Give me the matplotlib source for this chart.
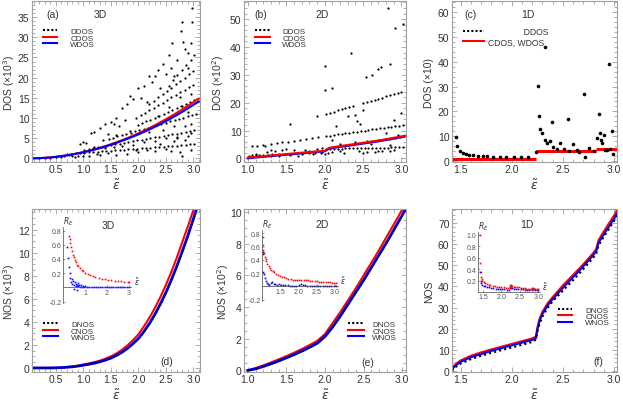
import matplotlib
matplotlib.use('Agg')
import matplotlib.pyplot as plt
from matplotlib.lines import Line2D
from matplotlib.ticker import MultipleLocator, FormatStrFormatter

plt.rcParams['font.family'] = ['Liberation Sans', 'DejaVu Sans']
plt.rcParams['mathtext.fontset'] = 'dejavusans'

# ---------------- DATA ----------------
# (a) 3D DOS
dos3d_x = [0.1,0.2,0.3,0.4,0.5,0.6,0.7,0.8,0.9,1.0,1.1,1.2,1.3,1.4,1.5,1.6,1.7,1.8,1.9,2.0,
           2.1,2.2,2.3,2.4,2.5,2.6,2.7,2.8,2.9,3.0,3.1]
cdos3d_y = [0.02,0.06,0.14,0.25,0.39,0.56,0.76,0.99,1.26,1.55,1.88,2.23,2.62,3.04,3.49,3.97,4.48,5.02,5.60,6.20,
            6.84,7.50,8.20,8.93,9.69,10.48,11.30,12.15,13.04,13.90,14.80]
wdos3d_y = [0.02,0.05,0.12,0.22,0.36,0.53,0.72,0.95,1.21,1.49,1.81,2.15,2.53,2.93,3.37,3.83,4.32,4.84,5.38,5.94,
            6.54,7.16,7.82,8.50,9.22,9.97,10.75,11.55,12.40,13.25,14.10]
ray3d_1x = [0.70,0.78,0.86,0.94,1.02,1.10,1.18,1.26,1.34,1.42,1.50,1.58,1.66,1.74,1.82,1.90,1.98,2.06,2.14,2.22,2.30,2.38,2.46,2.54,2.62,2.70,2.78,2.86,2.94,3.02]
ray3d_1y = [1.05,1.13,1.22,1.30,1.39,1.47,1.56,1.64,1.73,1.81,1.90,1.99,2.07,2.16,2.24,2.33,2.41,2.50,2.58,2.67,2.75,2.84,2.92,3.01,3.09,3.18,3.27,3.35,3.44,3.52]
ray3d_2x = [1.02,1.10,1.18,1.26,1.34,1.42,1.50,1.58,1.66,1.74,1.82,1.90,1.98,2.06,2.14,2.22,2.30,2.38,2.46,2.54,2.62,2.70,2.78,2.86,2.94,3.02]
ray3d_2y = [2.15,2.35,2.54,2.73,2.92,3.11,3.30,3.49,3.68,3.87,4.06,4.25,4.45,4.64,4.83,5.02,5.21,5.40,5.59,5.78,5.97,6.16,6.35,6.55,6.74,6.93]
ray3d_3x = [1.46,1.54,1.62,1.70,1.78,1.86,1.94,2.02,2.10,2.18,2.26,2.34,2.42,2.50,2.58,2.66,2.74,2.82,2.90,2.98,3.04]
ray3d_3y = [4.85,5.15,5.46,5.77,6.08,6.39,6.70,7.01,7.32,7.63,7.94,8.25,8.56,8.87,9.18,9.49,9.79,10.10,10.41,10.72,10.96]
ray3d_4x = [2.06,2.14,2.22,2.30,2.38,2.46,2.54,2.62,2.70,2.78,2.86,2.94,3.02]
ray3d_4y = [8.68,9.15,9.63,10.11,10.58,11.06,11.54,12.01,12.49,12.97,13.44,13.92,14.40]
ray3d_5x = [1.96,2.04,2.12,2.20,2.28,2.36,2.44,2.52,2.60,2.68,2.76,2.84,2.92,3.00]
ray3d_5y = [10.11,10.73,11.36,11.98,12.60,13.22,13.84,14.47,15.09,15.71,16.33,16.96,17.58,18.20]
ray3d_6x = [2.20,2.28,2.36,2.44,2.52,2.60,2.68,2.76,2.84,2.92,3.00]
ray3d_6y = [13.44,14.26,15.09,15.91,16.74,17.56,18.38,19.21,20.03,20.86,21.68]
ray3d_7x = [2.55,2.63,2.71,2.79,2.87,2.95,3.02]
ray3d_7y = [18.0,19.3,20.6,21.9,23.2,24.5,25.6]
scatter3d = [(2.98,37.2),(2.98,33.9),(2.80,33.9),(2.77,31.5),(2.62,28.5),(2.82,28.9),(2.96,28.5),(2.55,25.5),
             (2.85,27.0),(2.90,26.0),(2.70,24.5),(2.45,23.5),(2.35,22.0),(2.20,20.5),(2.30,20.3),(2.50,21.0),
             (2.60,22.5),(2.10,18.0),(2.25,19.0),(2.00,17.5),(1.85,15.5),(1.80,13.5),(1.90,14.8),(2.05,15.0),
             (1.70,12.5),(1.60,10.0),(1.50,9.0),(1.55,8.5),(1.40,8.4),(1.30,7.5),(1.20,6.5),(1.15,6.3),
             (1.00,4.0),(1.05,3.8),(0.95,3.5),(1.35,4.5),(1.45,6.0),(1.75,9.5),(1.65,8.0),(2.15,14.0),
             (2.40,17.5),(2.65,20.5),(2.90,22.5),(2.80,13.0),(2.90,11.5),(2.95,8.5),(2.85,8.0),(2.70,5.0),
             (2.90,5.5),(2.60,1.8),(2.75,1.5),(2.80,0.5),(2.95,2.0),(2.50,2.3),(2.30,1.8),(2.00,1.5),
             (1.80,1.2),(1.60,0.9),(1.30,0.9),(1.10,0.7),(0.90,0.6),(0.80,0.5),(0.60,0.4),(0.50,0.3),
             (0.40,0.15),(0.30,0.1),(0.20,0.05),(1.20,2.9),(1.40,2.6),(1.70,3.0),(1.90,3.4),(2.10,4.0),
             (2.30,4.4),(2.50,5.0),(2.70,5.2),(2.95,6.3),(2.20,6.5),(1.60,5.8),(2.00,8.3),(2.35,10.5),
             (2.55,12.8),(2.75,15.2),(2.95,16.0),(1.85,6.8),(2.45,7.0),(2.65,8.0),(1.25,1.2),(1.45,1.3),
             (1.55,2.8),(1.95,2.0),(2.15,2.0),(2.40,3.5),(2.65,4.2),(2.85,4.6),(0.75,0.9),(0.85,0.3),
             (1.00,0.7),(0.65,0.6),(0.55,0.5)]

# (b) 2D DOS
dos2d_x = [1.0,1.1,1.2,1.3,1.4,1.5,1.6,1.7,1.8,1.9,2.0,2.03,2.06,2.1,2.2,2.3,2.4,2.5,2.6,2.7,2.8,2.9,3.0,3.06]
cdos2d_y = [0.3,0.55,0.8,1.05,1.3,1.55,1.8,2.05,2.3,2.5,2.7,3.2,3.8,4.0,4.4,4.8,5.2,5.6,6.0,6.4,6.9,7.4,7.9,8.2]
wdos2d_y = [0.0,0.3,0.55,0.8,1.05,1.3,1.55,1.8,2.05,2.3,2.5,3.0,3.5,3.7,4.1,4.5,4.9,5.3,5.7,6.1,6.6,7.1,7.6,7.9]
ray2d_ux = [2.02,2.07,2.12,2.17,2.22,2.27,2.32,2.37,2.50,2.55,2.60,2.65,2.70,2.75,2.80,2.85,2.90,2.95,3.00]
ray2d_uy = [16.0,16.4,16.8,17.2,17.6,18.0,18.4,18.8,19.84,20.24,20.64,21.04,21.44,21.84,22.24,22.64,23.04,23.44,23.84]
ray2d_m1x = [1.05,1.12,1.20,1.30,1.38,1.45,1.52,1.60,1.68,1.76,1.84,1.92]
ray2d_m1y = [4.30,4.56,4.86,5.23,5.52,5.78,6.04,6.34,6.63,6.93,7.22,7.52]
ray2d_m2x = [2.02,2.07,2.12,2.17,2.22,2.27,2.32,2.37,2.42,2.47,2.52,2.57,2.62,2.67,2.72,2.77,2.82,2.87,2.92,2.97,3.02]
ray2d_m2y = [8.0,8.2,8.4,8.6,8.8,9.0,9.2,9.4,9.6,9.8,10.0,10.2,10.4,10.6,10.8,11.0,11.2,11.4,11.6,11.8,12.0]
ray2d_lx = [2.02,2.07,2.12,2.17,2.22,2.27,2.32,2.37,2.42,2.47,2.52,2.57,2.62,2.67,2.72,2.77,2.82,2.87,2.92,2.97,3.02]
ray2d_ly = [3.40,3.43,3.46,3.49,3.52,3.55,3.58,3.61,3.64,3.67,3.70,3.73,3.76,3.79,3.82,3.85,3.88,3.91,3.94,3.97,4.00]
ray2d_bx = [1.02,1.06,1.10,1.14,1.20,1.26,1.32,1.40,1.48,1.56,1.64,1.72,1.80,1.88,1.96]
ray2d_by = [1.00,1.05,1.10,1.15,1.25,1.30,1.40,1.50,1.60,1.70,1.80,1.90,2.00,2.10,2.20]
scatter2d = [(2.82,54.0),(2.92,46.9),(3.02,48.1),(2.34,37.7),(2.00,33.2),(2.01,24.4),(2.10,25.3),(2.54,29.2),
             (2.62,30.0),(2.70,32.1),(2.74,32.7),(2.85,34.0),(1.55,12.4),(1.90,15.2),(2.40,15.5),(2.42,13.4),
             (2.46,12.5),(2.15,11.5),(2.90,13.9),(3.00,16.4),(2.50,17.2),(2.30,15.1),(2.20,5.2),(2.40,6.0),
             (2.60,5.0),(2.85,4.8),(2.95,8.5),(2.80,9.0),(2.10,6.5),(2.30,4.8),(2.70,2.8),(2.90,3.0),
             (2.50,2.0),(2.25,2.0),(2.10,2.3),(2.20,2.5),(2.45,2.6),(2.55,2.4),(2.65,2.2),(2.75,2.5),
             (2.85,2.7),(2.55,6.2),(2.62,6.4),(2.70,6.7),(2.78,6.9),(2.85,7.1),(2.92,7.3),(2.98,7.5),
             (1.05,0.5),(1.10,1.6),(1.15,0.8),(1.25,2.2),(1.30,0.9),(1.35,2.6),(1.40,1.0),(1.45,2.9),
             (1.55,1.2),(1.60,2.9),(1.70,1.4),(1.75,3.0),(1.85,1.5),(1.90,3.2),(1.95,1.8),(1.22,4.4),
             (1.30,3.0),(1.50,3.3),(1.65,0.9),(1.80,2.8),(1.97,3.6),(2.00,1.5),(2.05,1.9)]

# (c) 1D DOS
cdos1d_level = [1.0, 4.0, 5.0]
cdos1d_start = [1.414, 2.236, 2.828]
cdos1d_end = [2.236, 2.828, 3.03]
scatter1d = [(1.45,9.6),(1.467,5.9),(1.49,4.1),(1.52,3.4),(1.55,2.9),(1.58,2.5),(1.62,2.3),(1.67,2.1),
             (1.72,2.0),(1.76,1.9),(1.82,1.8),(1.88,1.7),(1.94,1.7),(2.02,1.7),(2.09,1.6),(2.16,1.6),
             (2.24,3.6),(2.26,30.2),(2.27,18.3),(2.28,13.0),(2.30,11.3),(2.32,46.0),(2.32,8.4),(2.34,7.2),
             (2.37,7.9),(2.39,15.7),(2.40,5.6),(2.44,5.0),(2.47,7.1),(2.51,5.0),(2.55,16.9),(2.56,4.2),
             (2.60,6.9),(2.64,4.3),(2.66,3.7),(2.71,26.9),(2.72,1.8),(2.76,5.4),(2.80,4.1),(2.83,9.3),
             (2.85,19.0),(2.86,11.1),(2.87,8.3),(2.88,7.3),(2.90,10.3),(2.91,4.4),(2.93,4.6),(2.95,39.3),
             (2.96,4.8),(2.98,12.0),(2.99,3.0)]

# (d) 3D NOS
nos3d_x = [0.1,0.2,0.3,0.4,0.5,0.6,0.7,0.8,0.9,1.0,1.1,1.2,1.3,1.4,1.5,1.6,1.7,1.8,1.9,2.0,
           2.1,2.2,2.3,2.4,2.5,2.6,2.7,2.8,2.9,3.0,3.1]
cnos3d_y = [0.0,0.0,0.0,0.01,0.02,0.04,0.08,0.13,0.20,0.30,0.39,0.50,0.63,0.80,1.00,1.25,1.57,1.95,2.40,2.90,
            3.60,4.35,5.20,6.15,7.20,8.35,9.60,10.95,12.30,13.70,15.20]
wnos3d_y = [0.0,0.0,0.0,0.0,0.01,0.03,0.06,0.10,0.16,0.24,0.32,0.42,0.54,0.68,0.86,1.08,1.36,1.70,2.10,2.55,
            3.15,3.85,4.65,5.55,6.55,7.65,8.85,10.15,11.50,12.95,14.45]
dnos3d_y = [0.0,0.0,0.0,0.0,0.0,0.02,0.05,0.09,0.14,0.21,0.29,0.39,0.50,0.64,0.81,1.03,1.30,1.64,2.03,2.48,
            3.07,3.77,4.56,5.46,6.45,7.55,8.74,10.04,11.38,12.83,14.32]
rel3d_red = [(0.28,0.72),(0.30,0.68),(0.33,0.62),(0.36,0.57),(0.40,0.51),(0.44,0.46),(0.48,0.43),(0.53,0.39),
             (0.58,0.355),(0.64,0.32),(0.70,0.295),(0.77,0.27),(0.85,0.245),(0.93,0.225),(1.02,0.206),
             (1.12,0.189),(1.23,0.173),(1.35,0.158),(1.48,0.145),(1.62,0.133),(1.76,0.124),(1.90,0.115),
             (2.05,0.108),(2.20,0.101),(2.35,0.095),(2.50,0.09),(2.65,0.085),(2.80,0.081),(2.95,0.078),(3.0,0.077)]
rel3d_blue = [(0.20,0.57),(0.24,0.42),(0.27,0.29),(0.30,0.20),(0.33,0.13),(0.36,0.08),(0.40,0.12),(0.43,0.05),
              (0.46,0.09),(0.50,0.04),(0.52,-0.02),(0.55,0.07),(0.58,0.02),(0.60,0.05),(0.62,-0.03),(0.65,0.03),
              (0.68,0.06),(0.70,0.02),(0.73,0.04),(0.76,0.01),(0.80,0.03),(0.85,0.01),(0.90,0.02),(0.95,0.01),
              (1.0,0.015),(1.1,0.01),(1.2,0.012),(1.3,0.008),(1.4,0.01),(1.5,0.008),(1.6,0.01),(1.7,0.007),
              (1.8,0.008),(1.9,0.006),(2.0,0.007),(2.1,0.006),(2.2,0.006),(2.3,0.005),(2.4,0.005),(2.5,0.005),
              (2.6,0.004),(2.7,0.004),(2.8,0.004),(2.9,0.004),(3.0,0.004)]

# (e) 2D NOS
nos2d_x = [1.0,1.1,1.2,1.3,1.4,1.5,1.6,1.7,1.8,1.9,2.0,2.1,2.2,2.3,2.4,2.5,2.6,2.7,2.8,2.9,3.0,3.05]
cnos2d_y = [0.0,0.15,0.32,0.5,0.7,0.9,1.12,1.35,1.6,1.87,2.3,3.0,3.7,4.45,5.2,6.0,6.8,7.6,8.45,9.3,10.15,10.6]
wnos2d_y = [0.0,0.1,0.25,0.42,0.6,0.8,1.0,1.22,1.46,1.72,2.15,2.75,3.45,4.2,4.95,5.7,6.5,7.3,8.1,8.95,9.8,10.25]
dnos2d_y = [0.0,0.08,0.22,0.39,0.57,0.77,0.97,1.19,1.43,1.69,2.1,2.7,3.4,4.15,4.9,5.65,6.45,7.25,8.05,8.9,9.75,10.2]
rel2d_red = [(1.02,0.75),(1.03,0.62),(1.04,0.55),(1.06,0.5),(1.08,0.45),(1.10,0.41),(1.12,0.38),(1.15,0.34),
             (1.18,0.31),(1.21,0.28),(1.25,0.25),(1.29,0.23),(1.33,0.21),(1.38,0.19),(1.43,0.17),(1.48,0.16),
             (1.54,0.145),(1.60,0.135),(1.66,0.125),(1.72,0.115),(1.78,0.11),(1.84,0.1),(1.90,0.095),
             (1.96,0.09),(2.02,0.095),(2.08,0.1),(2.14,0.1),(2.20,0.095),(2.26,0.09),(2.32,0.085),(2.38,0.08),
             (2.44,0.078),(2.50,0.075),(2.56,0.072),(2.62,0.07),(2.68,0.067),(2.74,0.064),(2.80,0.062),
             (2.86,0.06),(2.92,0.057),(2.98,0.055),(3.02,0.053)]
rel2d_blue = [(1.02,0.52),(1.03,0.49),(1.04,0.22),(1.06,0.18),(1.08,0.12),(1.10,0.08),(1.13,0.05),(1.16,0.03),
              (1.20,0.02),(1.24,0.05),(1.28,0.06),(1.32,0.04),(1.36,0.03),(1.40,0.02),(1.46,0.03),(1.52,0.02),
              (1.58,0.015),(1.64,0.02),(1.70,0.015),(1.76,0.01),(1.82,0.012),(1.88,0.01),(1.94,0.01),
              (2.00,0.02),(2.06,0.03),(2.12,0.02),(2.18,0.015),(2.24,0.01),(2.30,0.012),(2.36,0.01),
              (2.42,0.01),(2.48,0.008),(2.54,0.01),(2.60,0.008),(2.66,0.008),(2.72,0.007),(2.78,0.007),
              (2.84,0.006),(2.90,0.006),(2.96,0.006),(3.02,0.005)]

# (f) 1D NOS
nos1d_x = [1.414,1.42,1.44,1.47,1.5,1.6,1.7,1.8,1.9,2.0,2.1,2.2,2.236,2.24,2.25,2.27,2.3,2.35,2.4,2.5,
           2.6,2.7,2.8,2.828,2.835,2.85,2.9,2.95,3.0,3.03]
cnos1d_y = [0,1.5,2.8,4.0,5.0,7.2,8.8,10.2,11.5,12.8,14.1,15.4,16.3,17.5,20.5,24.5,28.0,32.0,35.0,40.5,
            45.5,50.5,56.0,57.8,59.5,62.0,66.0,69.8,73.5,76.0]
wnos1d_y = [0,1.0,2.2,3.3,4.3,6.5,8.0,9.5,10.8,12.1,13.4,14.7,15.5,16.7,19.5,23.5,27.0,31.0,34.0,39.3,
            44.4,49.5,55.0,56.8,58.3,60.8,64.6,68.3,72.0,74.5]
dnos1d_y = [0,0.5,1.5,2.6,3.5,5.6,7.2,8.6,9.9,11.1,12.4,13.7,14.8,16.0,18.5,22.0,25.8,29.8,33.0,38.0,
            43.0,48.2,53.8,55.8,57.0,59.5,63.5,67.2,71.0,73.8]
rel1d_red = [(1.415,1.0),(1.42,0.5),(1.43,0.35),(1.44,0.26),(1.46,0.22),(1.48,0.2),(1.51,0.18),(1.55,0.16),
             (1.6,0.145),(1.65,0.13),(1.7,0.12),(1.76,0.11),(1.82,0.1),(1.88,0.095),(1.94,0.09),(2.0,0.085),
             (2.06,0.08),(2.12,0.075),(2.18,0.07),(2.23,0.07),(2.24,0.13),(2.25,0.12),(2.27,0.11),(2.3,0.1),
             (2.34,0.095),(2.38,0.09),(2.43,0.085),(2.48,0.08),(2.53,0.075),(2.58,0.07),(2.63,0.065),
             (2.68,0.06),(2.73,0.058),(2.78,0.055),(2.82,0.052),(2.83,0.07),(2.85,0.065),(2.88,0.06),
             (2.92,0.055),(2.96,0.05),(3.0,0.048)]
rel1d_blue = [(1.42,0.35),(1.43,0.2),(1.45,0.16),(1.48,0.13),(1.52,0.11),(1.56,0.1),(1.6,0.09),(1.66,0.08),
              (1.72,0.07),(1.78,0.065),(1.84,0.06),(1.9,0.055),(1.96,0.05),(2.02,0.048),(2.08,0.045),
              (2.14,0.042),(2.2,0.04),(2.24,0.08),(2.26,0.07),(2.3,0.065),(2.35,0.06),(2.4,0.055),(2.46,0.05),
              (2.52,0.048),(2.58,0.045),(2.64,0.042),(2.7,0.04),(2.76,0.038),(2.82,0.036),(2.84,0.05),
              (2.88,0.045),(2.92,0.042),(2.96,0.04),(3.0,0.038)]

# ---------------- STYLE ----------------
W, H = 623, 406
RED = '#ff0000'
BLUE = '#0000ff'
FRAME = '#a0a0a0'
TXT = '#333333'

fig = plt.figure(figsize=(W / 100, H / 100), dpi=100)


def box(l, t, r, b):
    return [l / W, 1 - b / H, (r - l) / W, (b - t) / H]


def style(ax, xlim, ylim, xmaj, xmin, ymaj, ymin, xfmt='%.1f'):
    ax.set_xlim(*xlim)
    ax.set_ylim(*ylim)
    for s in ax.spines.values():
        s.set_color(FRAME)
        s.set_linewidth(0.8)
    ax.xaxis.set_major_locator(MultipleLocator(xmaj))
    ax.xaxis.set_minor_locator(MultipleLocator(xmin))
    ax.yaxis.set_major_locator(MultipleLocator(ymaj))
    ax.yaxis.set_minor_locator(MultipleLocator(ymin))
    ax.xaxis.set_major_formatter(FormatStrFormatter(xfmt))
    ax.yaxis.set_major_formatter(FormatStrFormatter('%d'))
    ax.tick_params(which='both', direction='in', top=True, right=True, color=FRAME,
                   labelcolor=TXT, labelsize=7.5, width=0.6, pad=1.8)
    ax.tick_params(which='major', length=3.5)
    ax.tick_params(which='minor', length=2)
    ax.set_xlabel(r'$\tilde{\varepsilon}$', fontsize=9, color=TXT, labelpad=2)


def ylab(ax, text, xpos):
    ax.set_ylabel(text, fontsize=7.5, color=TXT)
    ax.yaxis.set_label_coords(xpos, 0.5)


def legend(ax, handles, labels, anchor, hl, pad, fs=5.8, sp=-0.15):
    ax.legend(handles, labels, loc='upper left', bbox_to_anchor=anchor, frameon=False,
              fontsize=fs, handlelength=hl, handletextpad=pad, labelspacing=sp,
              borderpad=0, borderaxespad=0, labelcolor=TXT)


def unzip(pairs):
    return [p[0] for p in pairs], [p[1] for p in pairs]


h_dot = Line2D([], [], color='black', ls=(0, (1, 1)), lw=1.5)
h_red = Line2D([], [], color=RED, lw=1.5)
h_blue = Line2D([], [], color=BLUE, lw=1.5)
ms = 1.6

# (a)
ax = fig.add_axes(box(32, 2, 200, 163))
style(ax, (0.07, 3.12), (-0.9, 39), 0.5, 0.1, 5, 1)
for rx, ry in [(ray3d_1x, ray3d_1y), (ray3d_2x, ray3d_2y), (ray3d_3x, ray3d_3y), (ray3d_4x, ray3d_4y),
               (ray3d_5x, ray3d_5y), (ray3d_6x, ray3d_6y), (ray3d_7x, ray3d_7y), unzip(scatter3d)]:
    ax.plot(rx, ry, 'o', color='black', ms=ms, mew=0)
ax.plot(dos3d_x, cdos3d_y, color=RED, lw=1.5)
ax.plot(dos3d_x, wdos3d_y, color=BLUE, lw=1.5)
ylab(ax, 'DOS (×10$^3$)', -0.09)
ax.text(0.122, 0.919, '(a)', transform=ax.transAxes, fontsize=7.5, color=TXT, ha='center', va='center')
ax.text(0.405, 0.919, '3D', transform=ax.transAxes, fontsize=7.5, color=TXT, ha='center', va='center')
legend(ax, [h_dot, h_red, h_blue], ['DDOS', 'CDOS', 'WDOS'], (0.065, 0.835), 1.8, 1.6)

# (b)
ax = fig.add_axes(box(244, 2, 406, 163))
style(ax, (0.95, 3.06), (-1.3, 56.5), 0.5, 0.1, 10, 2)
for rx, ry in [(ray2d_ux, ray2d_uy), (ray2d_m1x, ray2d_m1y), (ray2d_m2x, ray2d_m2y), (ray2d_lx, ray2d_ly),
               (ray2d_bx, ray2d_by), unzip(scatter2d)]:
    ax.plot(rx, ry, 'o', color='black', ms=ms, mew=0)
ax.plot(dos2d_x, wdos2d_y, color=BLUE, lw=1.5)
ax.plot(dos2d_x, cdos2d_y, color=RED, lw=1.5)
ylab(ax, 'DOS (×10$^2$)', -0.11)
ax.text(0.103, 0.919, '(b)', transform=ax.transAxes, fontsize=7.5, color=TXT, ha='center', va='center')
ax.text(0.483, 0.919, '2D', transform=ax.transAxes, fontsize=7.5, color=TXT, ha='center', va='center')
legend(ax, [h_dot, h_red, h_blue], ['DDOS', 'CDOS', 'WDOS'], (0.068, 0.835), 1.8, 1.6)

# (c)
ax = fig.add_axes(box(452, 2, 617, 163))
style(ax, (1.414, 3.03), (-0.4, 64.5), 0.5, 0.1, 10, 2)
ax.hlines(cdos1d_level, cdos1d_start, cdos1d_end, color=RED, lw=2.2)
sx, sy = unzip(scatter1d)
ax.plot(sx, sy, 'o', color='black', ms=2.6, mew=0, clip_on=False)
ylab(ax, 'DOS (×10)', -0.11)
ax.text(0.113, 0.919, '(c)', transform=ax.transAxes, fontsize=7.5, color=TXT, ha='center', va='center')
ax.text(0.462, 0.919, '1D', transform=ax.transAxes, fontsize=7.5, color=TXT, ha='center', va='center')
legend(ax, [h_dot, h_red], ['               DDOS', 'CDOS, WDOS'], (0.067, 0.84), 2.4, 0.5, fs=6.2, sp=0.2)

# (d)
ax = fig.add_axes(box(32, 210, 200, 373))
style(ax, (0.07, 3.12), (-0.35, 13.8), 0.5, 0.1, 2, 0.5)
ax.plot(nos3d_x, cnos3d_y, color=RED, lw=1.5)
ax.plot(nos3d_x, wnos3d_y, color=BLUE, lw=2.0)
ax.plot(nos3d_x, dnos3d_y, color='black', lw=1.0, ls=(0, (1, 1)))
ylab(ax, 'NOS (×10$^3$)', -0.09)
ax.text(0.80, 0.069, '(d)', transform=ax.transAxes, fontsize=7.5, color=TXT, ha='center', va='center')
ax.text(0.454, 0.902, '3D', transform=ax.transAxes, fontsize=7.5, color=TXT, ha='center', va='center')
legend(ax, [h_dot, h_red, h_blue], ['DNOS', 'CNOS', 'WNOS'], (0.065, 0.315), 1.9, 1.6)

# (e)
ax = fig.add_axes(box(244, 210, 406, 373))
style(ax, (0.95, 3.05), (-0.1, 10.2), 0.5, 0.1, 2, 0.5)
ax.plot(nos2d_x, cnos2d_y, color=RED, lw=1.5)
ax.plot(nos2d_x, wnos2d_y, color=BLUE, lw=2.0)
ax.plot(nos2d_x, dnos2d_y, color='black', lw=1.0, ls=(0, (1, 1)))
ylab(ax, 'NOS (×10$^2$)', -0.08)
ax.text(0.767, 0.06, '(e)', transform=ax.transAxes, fontsize=7.5, color=TXT, ha='center', va='center')
ax.text(0.483, 0.908, '2D', transform=ax.transAxes, fontsize=7.5, color=TXT, ha='center', va='center')
legend(ax, [h_dot, h_red, h_blue], ['DNOS', 'CNOS', 'WNOS'], (0.642, 0.316), 2.0, 1.0)

# (f)
ax = fig.add_axes(box(452, 210, 617, 373))
style(ax, (1.414, 3.03), (-0.5, 76.7), 0.5, 0.1, 10, 2)
ax.plot(nos1d_x, cnos1d_y, color=RED, lw=1.5)
ax.plot(nos1d_x, wnos1d_y, color=BLUE, lw=1.5)
ax.plot(nos1d_x, dnos1d_y, color='black', lw=1.5, ls=(0, (1, 1.5)))
ylab(ax, 'NOS', -0.11)
ax.text(0.887, 0.069, '(f)', transform=ax.transAxes, fontsize=7.5, color=TXT, ha='center', va='center')
ax.text(0.453, 0.908, '1D', transform=ax.transAxes, fontsize=7.5, color=TXT, ha='center', va='center')
legend(ax, [h_dot, h_red, h_blue], ['DNOS', 'CNOS', 'WNOS'], (0.642, 0.405), 1.8, 1.6)


# insets
def inset(l, t, r, b, xlim, ylim, xt, xl, yt, yl, red, blue, ex):
    ia = fig.add_axes(box(l, t, r, b))
    ia.patch.set_alpha(0)
    ia.set_xlim(*xlim)
    ia.set_ylim(*ylim)
    ia.spines['top'].set_visible(False)
    ia.spines['right'].set_visible(False)
    ia.spines['bottom'].set_position(('data', 0))
    for s in ['left', 'bottom']:
        ia.spines[s].set_linewidth(0.5)
        ia.spines[s].set_color('#444444')
    ia.set_xticks(xt)
    ia.set_xticklabels(xl)
    ia.set_yticks(yt)
    ia.set_yticklabels(yl)
    ia.tick_params(direction='in', length=1.5, width=0.4, labelsize=5, colors='#555555', pad=1)
    bx, by = unzip(blue)
    rx, ry = unzip(red)
    ia.plot(bx, by, 's', color=BLUE, ms=1.2, mew=0)
    ia.plot(rx, ry, 's', color=RED, ms=1.2, mew=0)
    ia.text(0.0, 1.0, '$R_E$', transform=ia.transAxes, fontsize=5.5, color='#333333', ha='left', va='bottom')
    ia.annotate(r'$\tilde{\varepsilon}$', xy=(ex, 0), xycoords=('axes fraction', 'data'),
                fontsize=5.5, color='#333333', ha='left', va='bottom')
    return ia


inset(63, 228, 131, 304, (0, 3.1), (-0.22, 0.85), [1, 2, 3], ['1', '2', '3'],
      [-0.2, 0.2, 0.4, 0.6, 0.8], ['-0.2', '0.2', '0.4', '0.6', '0.8'], rel3d_red, rel3d_blue, 1.05)
inset(262, 231, 338, 302, (1.0, 3.08), (-0.22, 0.85), [1.5, 2.0, 2.5, 3.0], ['1.5', '2.0', '2.5', '3.0'],
      [-0.2, 0.2, 0.4, 0.6, 0.8], ['-0.2', '0.2', '0.4', '0.6', '0.8'], rel2d_red, rel2d_blue, 1.03)
inset(478, 233, 540, 293, (1.36, 3.05), (0, 1.05), [1.5, 2.0, 2.5, 3.0], ['1.5', '2.0', '2.5', '3.0'],
      [0.2, 0.4, 0.6, 0.8, 1.0], ['0.2', '0.4', '0.6', '0.8', '1.0'], rel1d_red, rel1d_blue, 1.03)

fig.savefig('out.png', dpi=100)
